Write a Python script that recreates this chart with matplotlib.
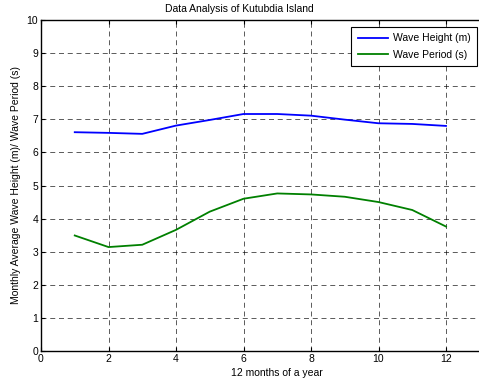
import matplotlib
matplotlib.use("Agg")
import matplotlib.pyplot as plt

months = [1, 2, 3, 4, 5, 6, 7, 8, 9, 10, 11, 12]
wave_height = [6.61, 6.59, 6.56, 6.81, 6.98, 7.16, 7.16, 7.11, 6.99, 6.88, 6.86, 6.80]
wave_period = [3.49, 3.14, 3.21, 3.66, 4.21, 4.60, 4.76, 4.73, 4.66, 4.50, 4.26, 3.76]
x_ticks = [0, 2, 4, 6, 8, 10, 12]
y_ticks = [0, 1, 2, 3, 4, 5, 6, 7, 8, 9, 10]

plt.rcParams['font.family'] = ['Liberation Sans', 'DejaVu Sans']
fig = plt.figure(figsize=(4.79, 3.83), dpi=100)
ax = fig.add_axes([41/479, 32/383, 472.5/479, 331/383])

ax.plot(months, wave_height, color=(0, 0, 1), lw=1.3, label='Wave Height (m)')
ax.plot(months, wave_period, color=(0, 0.5, 0), lw=1.3, label='Wave Period (s)')

ax.set_xlim(0, 14)
ax.set_ylim(0, 10)
ax.set_xticks(x_ticks)
ax.set_yticks(y_ticks)
ax.tick_params(direction='in', top=True, right=True, labelsize=7.5, length=3, width=0.8, pad=2)
ax.grid(True, color='black', linestyle=(0, (6, 4.5)), linewidth=0.6, alpha=0.75)
for s in ax.spines.values():
    s.set_linewidth(1.0)

ax.set_xlabel('12 months of a year', fontsize=7.5, labelpad=3)
ax.set_ylabel('Monthly Average Wave Height (m)/ Wave Period (s)', fontsize=7.5, labelpad=4)
fig.text(0.5, 1 - 9/383, 'Data Analysis of Kutubdia Island', ha='center', va='center', fontsize=7.5)

leg = ax.legend(loc='upper right', bbox_to_anchor=(477/479, 1 - 27/383), bbox_transform=fig.transFigure,
                fontsize=7.5, frameon=True, fancybox=False, framealpha=1, edgecolor='black',
                borderpad=0.6, handlelength=2.9, handletextpad=0.5, labelspacing=0.65, borderaxespad=0)
leg.get_frame().set_linewidth(0.8)

fig.savefig('out.png', dpi=100)
